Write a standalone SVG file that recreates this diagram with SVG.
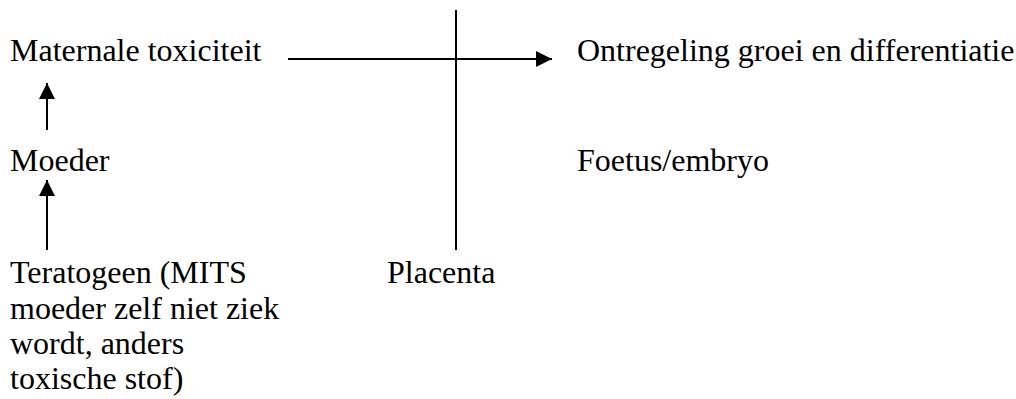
<svg xmlns="http://www.w3.org/2000/svg" width="1016" height="399" viewBox="0 0 1016 399">
<style>
.ln{stroke:#000;stroke-width:2;fill:none}
</style>
<defs>
<marker id="ah" viewBox="0 0 16 16" refX="16" refY="8" markerWidth="16" markerHeight="16" markerUnits="userSpaceOnUse" orient="auto">
<path d="M0,0 L16,8 L0,16 Z" fill="#000"/>
</marker>
</defs>
<rect width="1016" height="399" fill="#fff"/>
<g id="connectors">
<line class="ln" x1="288" y1="59" x2="552" y2="59" marker-end="url(#ah)"/>
<line class="ln" x1="456" y1="10" x2="456" y2="250"/>
<line class="ln" x1="47" y1="130" x2="47" y2="83" marker-end="url(#ah)"/>
<line class="ln" x1="47" y1="250" x2="47" y2="180" marker-end="url(#ah)"/>
</g>
<g font-family="Liberation Serif, serif" font-size="32" fill="#000">
<g id="maternale"><text x="10" y="61">Maternale toxiciteit</text></g>
<g id="ontregeling"><text x="577" y="61">Ontregeling groei en differentiatie</text></g>
<g id="moeder"><text x="10" y="171">Moeder</text></g>
<g id="foetus"><text x="577" y="171">Foetus/embryo</text></g>
<g id="teratogeen"><text x="10" y="283">Teratogeen (MITS<tspan x="10" y="318.5">moeder zelf niet ziek</tspan><tspan x="10" y="354">wordt, anders</tspan><tspan x="10" y="389">toxische stof)</tspan></text></g>
<g id="placenta"><text x="387" y="283">Placenta</text></g>
</g>
</svg>
